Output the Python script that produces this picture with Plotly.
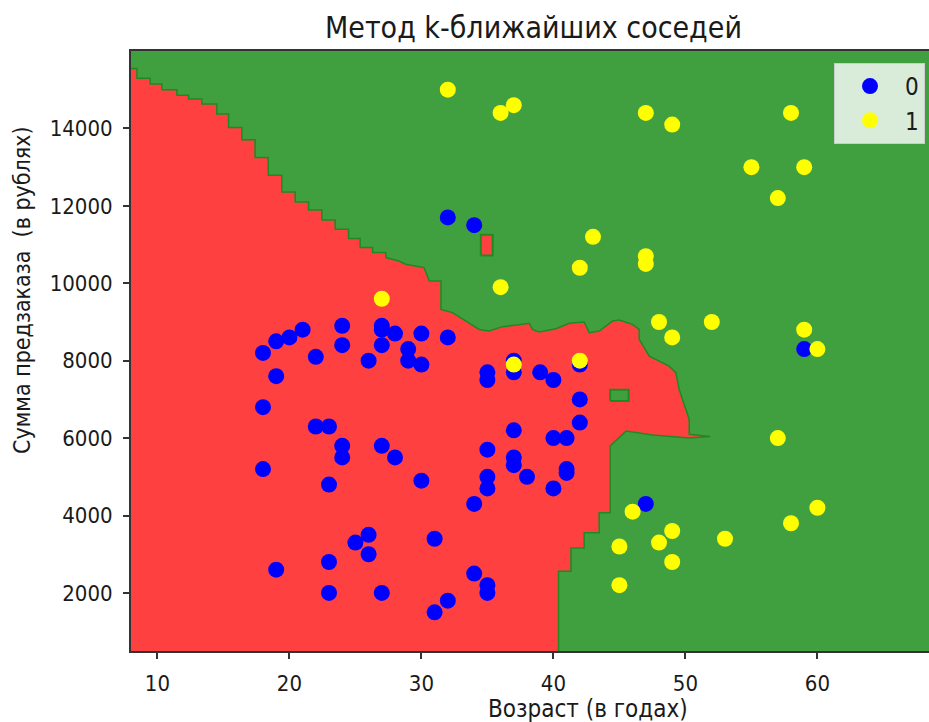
import plotly.graph_objects as go

# Customers: age (years), pre-order sum (roubles), class label
age_0 = [18, 19, 20, 21, 22, 24, 24, 26, 27, 27, 27, 28, 29, 29, 30, 30, 32,
         19, 18, 22, 23, 24, 24, 27, 28, 18, 23, 30, 26, 25, 26, 23, 19, 23,
         27, 31, 34, 34, 35, 35, 32, 31, 35, 35, 35, 37, 37, 38, 40, 41, 41,
         40, 41, 37, 42, 42, 39, 40, 35, 35, 37, 37, 42, 47, 59, 32, 34]
sum_0 = [8200, 8500, 8600, 8800, 8100, 8900, 8400, 8000, 8900, 8800, 8400,
         8700, 8300, 8000, 8700, 7900, 8600, 7600, 6800, 6300, 6300, 5800,
         5500, 5800, 5500, 5200, 4800, 4900, 3500, 3300, 3000, 2800, 2600,
         2000, 2000, 3400, 4300, 2500, 2200, 2000, 1800, 1500, 5700, 5000,
         4700, 5500, 5300, 5000, 4700, 5200, 5100, 6000, 6000, 6200, 7000,
         6400, 7700, 7500, 7700, 7500, 8000, 7700, 7900, 4300, 8300, 11700,
         11500]

age_1 = [32, 36, 37, 47, 49, 58, 55, 59, 57, 43, 42, 47, 47, 36, 27, 48, 52,
         49, 59, 60, 37, 42, 57, 46, 45, 48, 49, 49, 45, 53, 58, 60]
sum_1 = [15000, 14400, 14600, 14400, 14100, 14400, 13000, 13000, 12200,
         11200, 10400, 10700, 10500, 9900, 9600, 9000, 9000, 8600, 8800,
         8300, 7900, 8000, 6000, 4100, 3200, 3300, 3600, 2800, 2200, 3400,
         3800, 4200]

# Class-0 decision region of the k-NN classifier (age, sum along its edge)
region0_age = [7.0, 7.0, 8.45, 8.45, 9.45, 9.45, 10.34, 10.34, 11.48, 11.48,
               12.36, 12.36, 13.37, 13.37, 14.5, 14.5, 15.39, 15.39, 16.4,
               16.4, 17.4, 17.4, 18.4, 18.4, 19.43, 19.43, 20.44, 20.44,
               21.45, 21.45, 22.46, 22.46, 23.47, 23.47, 24.48, 24.48, 25.36,
               25.36, 26.3, 26.3, 27.3, 27.3, 28.3, 28.8, 30.2, 30.34, 30.6,
               31.48, 31.48, 32.36, 33.37, 34.38, 35.14, 36.14, 37.03, 38.17,
               38.42, 38.92, 40.19, 41.2, 42.33, 42.71, 43.47, 44.48, 44.98,
               45.99, 46.5, 46.5, 47.26, 48.27, 48.77, 49.28, 49.53, 50.29,
               50.29, 51.88, 50.29, 47.5, 45.5, 44.3, 44.3, 43.47, 43.47,
               42.33, 42.33, 41.33, 41.33, 40.39, 40.39]
region0_sum = [300, 15550, 15550, 15293, 15293, 15145, 15145, 15000, 15000,
               14860, 14860, 14757, 14757, 14630, 14630, 14370, 14370, 14025,
               14025, 13705, 13705, 13250, 13250, 12790, 12790, 12360, 12360,
               12100, 12100, 11894, 11894, 11636, 11636, 11395, 11395, 11154,
               11154, 10922, 10922, 10793, 10793, 10663, 10575, 10490, 10404,
               10275, 10058, 10058, 9326, 9241, 9024, 8807, 8765, 8879, 8912,
               8964, 8809, 8739, 8827, 8964, 8998, 8724, 8765, 9024, 9049,
               8938, 8809, 8550, 8119, 7948, 7860, 7689, 7257, 6481, 6100,
               6040, 6000, 6080, 6180, 5800, 4069, 4069, 3552, 3552, 3164,
               3164, 2559, 2559, 300]

# Small isolated cells of each class
island0_age = [34.5, 35.4, 35.4, 34.5, 34.5]
island0_sum = [10720, 10720, 11250, 11250, 10720]
island1_age = [44.3, 45.7, 45.7, 44.3, 44.3]
island1_sum = [6960, 6960, 7250, 7250, 6960]

x_ticks = [10, 20, 30, 40, 50, 60]
y_ticks = [2000, 4000, 6000, 8000, 10000, 12000, 14000]

RED = "#ff4040"
GREEN = "#40a040"
EDGE = "#1f8a1f"
FONT = "DejaVu Sans Condensed, DejaVu Sans, sans-serif"
TXT = "#1a1a1a"

fig = go.Figure()
fig.add_trace(go.Scatter(
    x=region0_age, y=region0_sum, mode="lines", fill="toself",
    fillcolor=RED, line=dict(color=EDGE, width=1.5),
    showlegend=False, hoverinfo="skip",
))
fig.add_trace(go.Scatter(
    x=island0_age, y=island0_sum, mode="lines", fill="toself",
    fillcolor=RED, line=dict(color=EDGE, width=2),
    showlegend=False, hoverinfo="skip",
))
fig.add_trace(go.Scatter(
    x=island1_age, y=island1_sum, mode="lines", fill="toself",
    fillcolor=GREEN, line=dict(color=EDGE, width=2),
    showlegend=False, hoverinfo="skip",
))
fig.add_trace(go.Scatter(
    x=age_0, y=sum_0, mode="markers", name="0",
    marker=dict(color="#0000ff", size=16, line=dict(width=0)),
))
fig.add_trace(go.Scatter(
    x=age_1, y=sum_1, mode="markers", name="1",
    marker=dict(color="#ffff00", size=16, line=dict(width=0)),
))

fig.update_layout(
    width=929, height=722,
    margin=dict(l=131, r=0, t=51, b=71),
    paper_bgcolor="white", plot_bgcolor=GREEN,
    font=dict(family=FONT, size=22, color=TXT),
    showlegend=True,
    legend=dict(
        x=0.995, y=0.98, xanchor="right", yanchor="top",
        bgcolor="rgba(255,255,255,0.8)", bordercolor="#cccccc", borderwidth=1,
        font=dict(family=FONT, size=24, color=TXT),
        itemsizing="trace", itemwidth=60,
    ),
    annotations=[
        dict(text="Метод k-ближайших соседей", xref="paper", yref="paper",
             x=(533 - 131) / 798, y=1, yshift=24, xanchor="center",
             yanchor="middle", showarrow=False,
             font=dict(family=FONT, size=30, color=TXT)),
        dict(text="Возраст (в годах)", xref="paper", yref="paper",
             x=(588 - 131) / 798, y=0, yshift=-58, xanchor="center",
             yanchor="middle", showarrow=False,
             font=dict(family=FONT, size=24, color=TXT)),
        dict(text="Сумма предзаказа  (в рублях)", xref="paper", yref="paper",
             x=0, xshift=-109, y=(651 - 290) / 600, xanchor="center",
             yanchor="middle", textangle=-90, showarrow=False,
             font=dict(family=FONT, size=23, color=TXT)),
    ],
)
fig.update_xaxes(
    range=[8, 8 + 798 / 13.2], tickvals=x_ticks, ticks="outside",
    ticklen=6, tickwidth=1.5, tickcolor="#333333", showgrid=False,
    zeroline=False, showline=True, linecolor="#333333", linewidth=2,
    mirror=True, ticklabelstandoff=6,
)
fig.update_yaxes(
    range=[500, 16000], tickvals=y_ticks, tickformat="d", ticks="outside",
    ticklen=6, tickwidth=1.5, tickcolor="#333333", showgrid=False,
    zeroline=False, showline=True, linecolor="#333333", linewidth=2,
    mirror=False, ticklabelstandoff=6,
)

fig.write_html("out.html")
